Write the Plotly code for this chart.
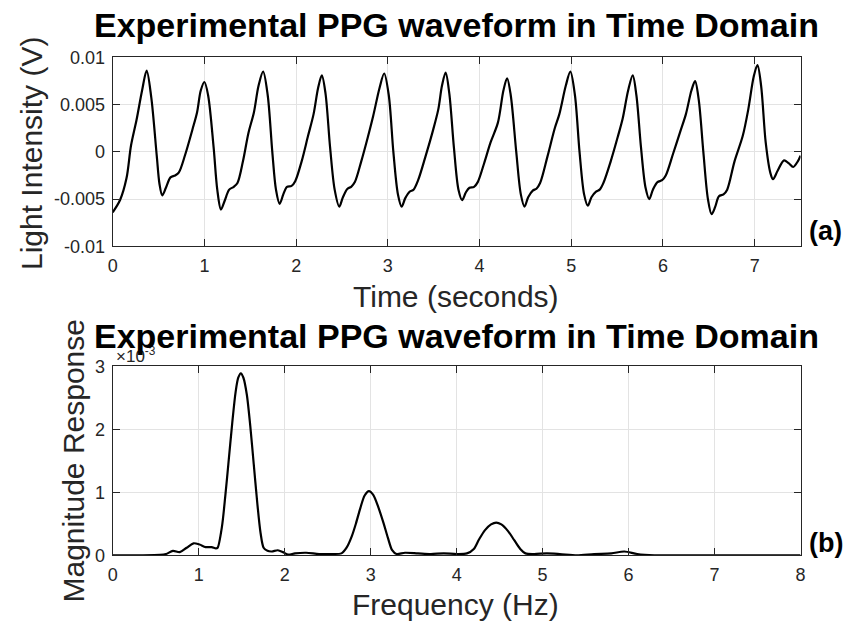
import plotly.graph_objects as go

# ---------------- data ----------------
time_s = [0.00, 0.08, 0.15, 0.20, 0.26, 0.32, 0.37, 0.42, 0.48, 0.51, 0.54, 0.58, 0.63, 0.68, 0.72, 0.79, 0.87, 0.92, 0.96,
          1.00, 1.04, 1.10, 1.14, 1.18, 1.22, 1.27, 1.32, 1.36, 1.42, 1.48, 1.54, 1.59, 1.64, 1.69, 1.74, 1.78, 1.82, 1.86,
          1.90, 1.95, 1.99, 2.06, 2.13, 2.19, 2.24, 2.28, 2.32, 2.37, 2.42, 2.47, 2.51, 2.56, 2.60, 2.64, 2.71, 2.78, 2.84,
          2.91, 2.96, 3.01, 3.06, 3.11, 3.15, 3.19, 3.24, 3.28, 3.33, 3.41, 3.49, 3.55, 3.59, 3.63, 3.67, 3.72, 3.77, 3.81,
          3.85, 3.89, 3.94, 3.98, 4.05, 4.12, 4.20, 4.26, 4.30, 4.34, 4.40, 4.45, 4.49, 4.53, 4.58, 4.62, 4.66, 4.74, 4.82,
          4.87, 4.94, 4.99, 5.04, 5.09, 5.14, 5.18, 5.22, 5.27, 5.31, 5.35, 5.43, 5.51, 5.56, 5.62, 5.67, 5.71, 5.76, 5.81,
          5.85, 5.89, 5.94, 5.99, 6.03, 6.11, 6.19, 6.25, 6.31, 6.35, 6.39, 6.44, 6.49, 6.53, 6.57, 6.61, 6.66, 6.70, 6.78,
          6.87, 6.93, 6.99, 7.03, 7.07, 7.12, 7.17, 7.20, 7.25, 7.32, 7.37, 7.42, 7.47, 7.50]
intensity_v = [-0.0064, -0.0051, -0.0028, 0.0007, 0.0034, 0.0065, 0.0086, 0.0058, -0.0004, -0.0034, -0.0046, -0.0038,
               -0.0027, -0.0025, -0.0022, -0.0003, 0.0024, 0.0042, 0.0065,
               0.0074, 0.0060, 0.0005, -0.0040, -0.0061, -0.0052, -0.0040, -0.0037, -0.0033, -0.0010, 0.0020, 0.0042,
               0.0070, 0.0085, 0.0060, 0.0000, -0.0040, -0.0055, -0.0045,
               -0.0037, -0.0036, -0.0031, -0.0010, 0.0017, 0.0040, 0.0068, 0.0081, 0.0062, 0.0005, -0.0040, -0.0058,
               -0.0048, -0.0039, -0.0037, -0.0032, -0.0010, 0.0015, 0.0038,
               0.0068, 0.0083, 0.0060, 0.0000, -0.0045, -0.0058, -0.0049, -0.0042, -0.0040, -0.0030, -0.0005, 0.0022,
               0.0045, 0.0070, 0.0084, 0.0062, 0.0005, -0.0040, -0.0051,
               -0.0043, -0.0038, -0.0037, -0.0032, -0.0012, 0.0010, 0.0031, 0.0065, 0.0078, 0.0060, 0.0000, -0.0045,
               -0.0058, -0.0048, -0.0041, -0.0039, -0.0033, -0.0005, 0.0025,
               0.0040, 0.0070, 0.0085, 0.0060, 0.0000, -0.0045, -0.0057, -0.0048, -0.0042, -0.0040, -0.0033, -0.0010,
               0.0017, 0.0035, 0.0065, 0.0081, 0.0060, 0.0005, -0.0038,
               -0.0050, -0.0040, -0.0032, -0.0030, -0.0025, -0.0002, 0.0022, 0.0040, 0.0065, 0.0075, 0.0055, 0.0000,
               -0.0050, -0.0066, -0.0058, -0.0047, -0.0045, -0.0040, -0.0010,
               0.0017, 0.0045, 0.0080, 0.0092, 0.0070, 0.0010, -0.0022, -0.0029, -0.0020, -0.0009, -0.0012, -0.0016,
               -0.0010, -0.0004]

freq_hz = [0.00, 0.30, 0.55, 0.62, 0.70, 0.78, 0.86, 0.94, 1.01, 1.08, 1.15, 1.20, 1.22, 1.27, 1.31, 1.345, 1.39, 1.43,
           1.46, 1.49, 1.52, 1.56, 1.60, 1.64, 1.68, 1.72, 1.755, 1.80, 1.85, 1.92, 1.98, 2.04, 2.12, 2.25, 2.40, 2.55,
           2.66, 2.72, 2.78, 2.83, 2.88, 2.93, 2.98, 3.03, 3.09, 3.15, 3.20, 3.25, 3.30, 3.40, 3.55, 3.70, 3.85, 4.00,
           4.12, 4.20, 4.26, 4.33, 4.40, 4.46, 4.52, 4.60, 4.67, 4.74, 4.80, 4.90, 5.05, 5.20, 5.40, 5.60, 5.80, 5.95,
           6.10, 6.30, 7.00, 8.00]
magnitude = [0.00, 0.00, 0.005, 0.02, 0.07, 0.05, 0.12, 0.19, 0.17, 0.13, 0.13, 0.11, 0.12, 0.45, 0.95, 1.45, 2.10, 2.60,
             2.82, 2.89, 2.82, 2.55, 2.05, 1.45, 0.85, 0.35, 0.12, 0.07, 0.06, 0.08, 0.05, 0.01, 0.03, 0.04, 0.02, 0.02,
             0.03, 0.12, 0.30, 0.51, 0.75, 0.95, 1.02, 0.96, 0.76, 0.51, 0.28, 0.08, 0.02, 0.04, 0.03, 0.02, 0.03, 0.02,
             0.03, 0.10, 0.25, 0.40, 0.49, 0.52, 0.49, 0.38, 0.24, 0.10, 0.03, 0.02, 0.03, 0.02, 0.00, 0.02, 0.03, 0.06,
             0.02, 0.00, 0.00, 0.00]
magnitude_scaled = [m * 1e-3 for m in magnitude]

top_xticks = [0, 1, 2, 3, 4, 5, 6, 7]
top_yticks = [-0.01, -0.005, 0, 0.005, 0.01]
top_yticktext = ["-0.01", "-0.005", "0", "0.005", "0.01"]
bot_xticks = [0, 1, 2, 3, 4, 5, 6, 7, 8]
bot_yticks = [0, 0.001, 0.002, 0.003]
bot_yticktext = ["0", "1", "2", "3"]

TITLE = "Experimental PPG waveform in Time Domain"

# ---------------- layout helpers ----------------
W, H = 852, 635
def px(x):
    return x / W
def py(y):
    return 1 - y / H

FONT = "Liberation Sans, Arial, Helvetica, sans-serif"
AX = "#262626"
GRID = "#e3e3e3"

fig = go.Figure()
fig.add_trace(go.Scatter(x=time_s, y=intensity_v, mode="lines", line=dict(color="black", width=2.2, shape="spline", smoothing=0.9),
                         xaxis="x", yaxis="y", showlegend=False, hoverinfo="skip"))
fig.add_trace(go.Scatter(x=freq_hz, y=magnitude_scaled, mode="lines", line=dict(color="black", width=2.2, shape="spline", smoothing=0.8),
                         xaxis="x2", yaxis="y2", showlegend=False, hoverinfo="skip"))

axis_common = dict(showline=True, linecolor=AX, linewidth=1, mirror="ticks", ticks="inside", ticklen=7,
                   tickcolor=AX, tickwidth=1, showgrid=True, gridcolor=GRID, gridwidth=1, zeroline=False,
                   tickfont=dict(family=FONT, size=18, color=AX), ticklabelstandoff=3)

fig.update_layout(
    width=W, height=H, margin=dict(l=0, r=0, t=0, b=0),
    paper_bgcolor="white", plot_bgcolor="white",
    xaxis=dict(domain=[px(109), px(805)], range=[0, 7.5], tickvals=top_xticks, anchor="y", **axis_common),
    yaxis=dict(domain=[py(244), py(49)], range=[-0.01, 0.01], tickvals=top_yticks, ticktext=top_yticktext,
               anchor="x", **axis_common),
    xaxis2=dict(domain=[px(109), px(805)], range=[0, 8], tickvals=bot_xticks, anchor="y2", **axis_common),
    yaxis2=dict(domain=[py(563), py(368)], range=[0, 0.003], tickvals=bot_yticks, ticktext=bot_yticktext,
                anchor="x2", **axis_common),
)

ann = []
# exponent label (drawn first so the title overlaps it, as in the reference)
ann.append(dict(text="×10<sup>-3</sup>", x=px(110), y=py(370), xref="paper", yref="paper", xanchor="left",
                yanchor="bottom", showarrow=False, font=dict(family=FONT, size=17, color=AX)))
# titles
ann.append(dict(text="<b>" + TITLE + "</b>", x=px(457), y=py(16), xref="paper", yref="paper", xanchor="center",
                yanchor="middle", showarrow=False, font=dict(family=FONT, size=34, color="black")))
ann.append(dict(text="<b>" + TITLE + "</b>", x=px(457), y=py(337), xref="paper", yref="paper", xanchor="center",
                yanchor="middle", showarrow=False, font=dict(family=FONT, size=34, color="black")))
# axis titles
ann.append(dict(text="Time (seconds)", x=px(456), y=py(296), xref="paper", yref="paper", xanchor="center",
                yanchor="middle", showarrow=False, font=dict(family=FONT, size=30, color=AX)))
ann.append(dict(text="Frequency (Hz)", x=px(456), y=py(614), xref="paper", yref="paper", xanchor="center",
                yanchor="middle", showarrow=False, font=dict(family=FONT, size=30, color=AX)))
ann.append(dict(text="Light Intensity (V)", x=px(27), y=py(148), xref="paper", yref="paper", xanchor="center",
                yanchor="middle", textangle=-90, showarrow=False, font=dict(family=FONT, size=30, color=AX)))
ann.append(dict(text="Magnitude Response", x=px(69), y=py(465), xref="paper", yref="paper", xanchor="center",
                yanchor="middle", textangle=-90, showarrow=False, font=dict(family=FONT, size=30, color=AX)))
# panel labels
ann.append(dict(text="<b>(a)</b>", x=px(812), y=py(228), xref="paper", yref="paper", xanchor="left",
                yanchor="middle", showarrow=False, font=dict(family=FONT, size=27, color="black")))
ann.append(dict(text="<b>(b)</b>", x=px(812), y=py(550), xref="paper", yref="paper", xanchor="left",
                yanchor="middle", showarrow=False, font=dict(family=FONT, size=27, color="black")))
fig.update_layout(annotations=ann)

fig.write_html("out.html")
